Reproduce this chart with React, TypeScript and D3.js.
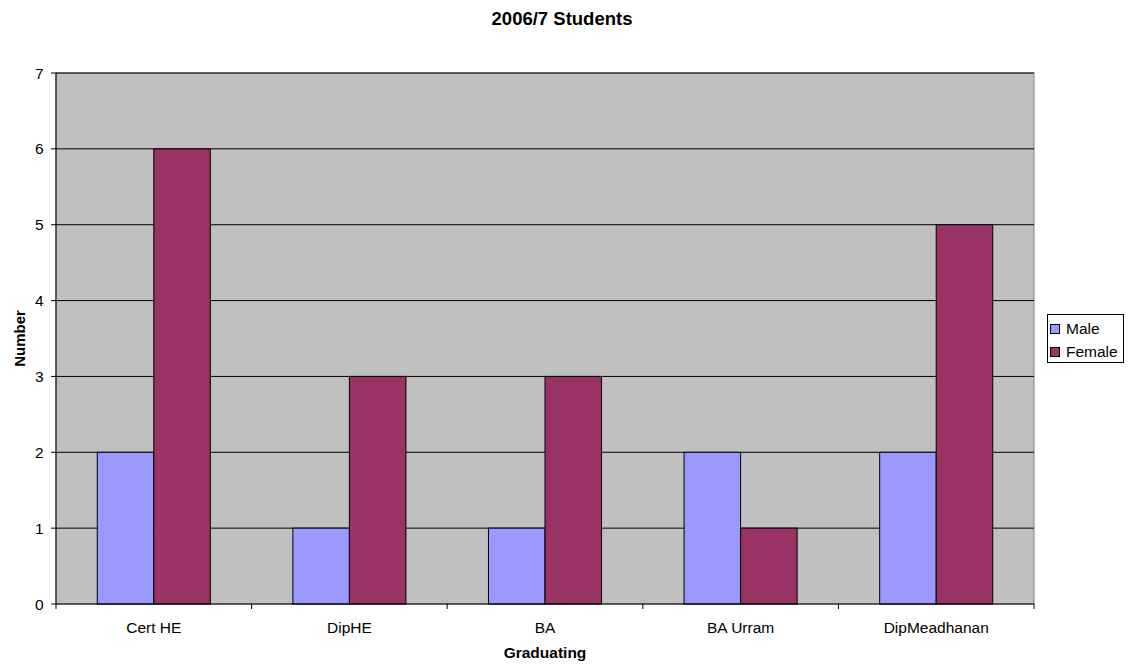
import React from "react";
import * as d3 from "d3";

const categories = ["Cert HE", "DipHE", "BA", "BA Urram", "DipMeadhanan"];
const male = [2, 1, 1, 2, 2];
const female = [6, 3, 3, 1, 5];
const seriesNames = ["Male", "Female"];
const seriesColors = ["#9999FF", "#993366"];
const yTicks = [0, 1, 2, 3, 4, 5, 6, 7];

export default function App() {
  const W = 1129, H = 669;
  const left = 56, right = 1034, top = 73, bottom = 604;
  const font = "Liberation Sans, Arial, sans-serif";
  const x = d3.scaleBand<string>().domain(categories).range([left, right]).paddingInner(0).paddingOuter(0);
  const y = d3.scaleLinear().domain([0, 7]).range([bottom, top]);
  const bw = x.bandwidth();
  const groupW = bw * 0.578;
  const barW = groupW / 2;
  const series = [male, female];
  const midX = (left + right) / 2;
  const midY = (top + bottom) / 2;

  return (
    <svg width={W} height={H} style={{ position: "absolute", left: 0, top: 0, background: "#fff" }} fontFamily={font}>
      <text x={562} y={25} textAnchor="middle" fontSize={18.5} fontWeight="bold">2006/7 Students</text>
      <rect x={left} y={top} width={right - left} height={bottom - top} fill="#C0C0C0" stroke="#808080" strokeWidth={1} />
      {yTicks.filter(t => t > 0).map(t => (
        <line key={"g" + t} x1={left} x2={right} y1={y(t)} y2={y(t)} stroke="#000" strokeWidth={1} />
      ))}
      {categories.map((c, i) => (
        <g key={c}>
          {series.map((s, j) => {
            const x0 = (x(c) as number) + bw / 2 - groupW / 2 + j * barW;
            return (
              <rect key={j} x={x0} y={y(s[i])} width={barW} height={bottom - y(s[i])}
                fill={seriesColors[j]} stroke="#000" strokeWidth={1} />
            );
          })}
        </g>
      ))}
      <line x1={left} x2={left} y1={top} y2={bottom} stroke="#000" />
      <line x1={left} x2={right} y1={bottom} y2={bottom} stroke="#000" />
      {yTicks.map(t => (
        <g key={"t" + t}>
          <line x1={left - 5} x2={left} y1={y(t)} y2={y(t)} stroke="#000" />
          <text x={43.5} y={y(t) + 5.5} textAnchor="end" fontSize={15.5}>{t}</text>
        </g>
      ))}
      {[...categories.map(c => x(c) as number), right].map((v, i) => (
        <line key={"xt" + i} x1={v} x2={v} y1={bottom} y2={bottom + 5} stroke="#000" />
      ))}
      {categories.map(c => (
        <text key={"l" + c} x={(x(c) as number) + bw / 2} y={633} textAnchor="middle" fontSize={15.5}>{c}</text>
      ))}
      <text x={midX} y={658} textAnchor="middle" fontSize={15.5} fontWeight="bold">Graduating</text>
      <text transform={`translate(25,${midY}) rotate(-90)`} textAnchor="middle" fontSize={15} fontWeight="bold">Number</text>
      <rect x={1047.5} y={314.5} width={76} height={48} fill="#fff" stroke="#000" />
      {seriesNames.map((n, j) => (
        <g key={n}>
          <rect x={1050.5} y={324.5 + j * 23} width={9} height={9} fill={seriesColors[j]} stroke="#000" />
          <text x={1066} y={334 + j * 23} fontSize={15.5}>{n}</text>
        </g>
      ))}
    </svg>
  );
}
